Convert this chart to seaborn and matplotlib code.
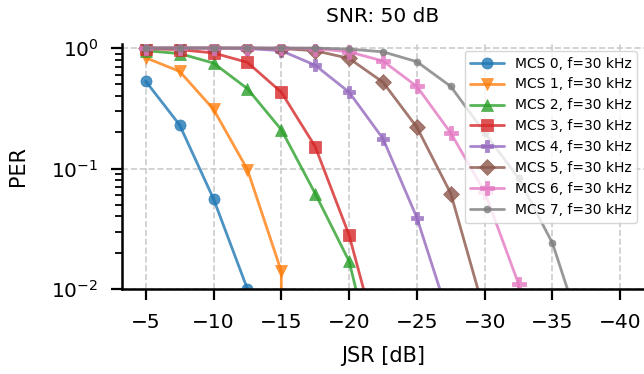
import numpy as np
import seaborn as sns
import matplotlib
matplotlib.use("Agg")
import matplotlib.pyplot as plt

sns.set_style("ticks", {
    "axes.grid": True,
    "grid.linestyle": "--",
})
plt.rcParams['font.family'] = ['DejaVu Sans']
plt.rcParams['text.color'] = 'black'
plt.rcParams['axes.labelcolor'] = 'black'

jsr = [-5, -7.5, -10, -12.5, -15, -17.5, -20, -22.5, -25, -27.5, -30, -32.5, -35, -37.5, -40]

mcs0 = [0.53, 0.23, 0.056, 0.010, 0, 0, 0, 0, 0, 0, 0, 0, 0, 0, 0]
mcs1 = [0.83, 0.64, 0.31, 0.098, 0.014, 0, 0, 0, 0, 0, 0, 0, 0, 0, 0]
mcs2 = [0.95, 0.90, 0.75, 0.46, 0.21, 0.062, 0.017, 0.0012, 0, 0, 0, 0, 0, 0, 0]
mcs3 = [0.99, 0.97, 0.91, 0.76, 0.43, 0.152, 0.028, 0.0025, 0, 0, 0, 0, 0, 0, 0]
mcs4 = [1.0, 1.0, 1.0, 0.99, 0.95, 0.72, 0.43, 0.177, 0.039, 0.0052, 0, 0, 0, 0, 0]
mcs5 = [1.0, 1.0, 1.0, 1.0, 0.99, 0.95, 0.82, 0.52, 0.22, 0.062, 0.0063, 0, 0, 0, 0]
mcs6 = [1.0, 1.0, 1.0, 1.0, 1.0, 0.99, 0.93, 0.78, 0.48, 0.197, 0.064, 0.011, 0, 0, 0]
mcs7 = [1.0, 1.0, 1.0, 1.0, 1.0, 1.0, 0.98, 0.93, 0.77, 0.48, 0.198, 0.083, 0.024, 0.0033, 0]

series = [mcs0, mcs1, mcs2, mcs3, mcs4, mcs5, mcs6, mcs7]
labels = ["MCS {}, f=30 kHz".format(i) for i in range(8)]
markers = ["o", "v", "^", "s", "P", "D", "P", "o"]
msizes = [8, 9, 9, 8, 9, 8, 10, 5]
colors = sns.color_palette("tab10", 8)

fig = plt.figure(figsize=(6.44, 3.74), dpi=100)
ax = fig.add_axes([122 / 644, 85 / 374, 522 / 644, 245 / 374])

for vals, lab, m, ms, c in zip(series, labels, markers, msizes, colors):
    sns.lineplot(x=jsr, y=vals, marker=m, markersize=ms, color=c, alpha=0.8,
                 lw=2, label=lab, mec=c, mew=0.5, ax=ax)

ax.set_yscale("log")
ax.set_ylim(1e-2, 1.08)
ax.set_xlim(-3.25, -41.75)
ax.set_xticks([-5, -10, -15, -20, -25, -30, -35, -40])
sns.despine(ax=ax)
for s in ["left", "bottom"]:
    ax.spines[s].set_color("black")
    ax.spines[s].set_linewidth(1.8)
ax.tick_params(which="both", colors="black", labelsize=14.5, width=1.6)
ax.tick_params(which="major", length=8, pad=9)
ax.tick_params(which="minor", length=5, width=1.3)
ax.grid(True, which="major", linestyle="--", color="0.8", lw=1.2)
ax.grid(False, which="minor")

ax.set_xlabel("JSR [dB]", fontsize=15, labelpad=10)
ax.set_ylabel("PER", fontsize=15, labelpad=17)
ax.set_title("SNR: 50 dB", fontsize=14.5, pad=16)
ax.legend(loc="upper right", fontsize=10, frameon=True, framealpha=0.8,
          edgecolor="0.8", handlelength=2.4, borderpad=0.4, labelspacing=0.5)

fig.savefig("out.png", dpi=100)
